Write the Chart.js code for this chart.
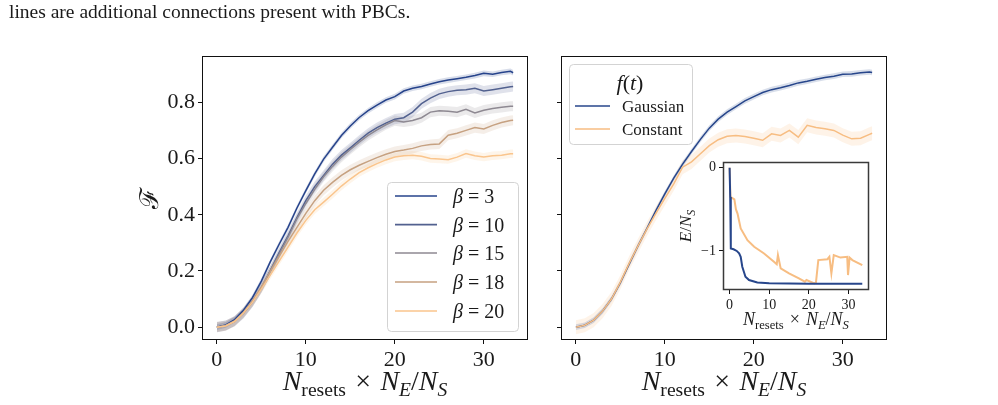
<!DOCTYPE html>
<html><head><meta charset="utf-8">
<script src="https://cdn.jsdelivr.net/npm/chart.js@4"></script>
<style>
body{margin:0;background:#fff;width:998px;height:405px;overflow:hidden;position:relative}
canvas{position:absolute}
</style></head><body>
<canvas id="cap" width="600" height="26" style="left:0px;top:0px"></canvas>
<canvas id="c1" width="410" height="365" style="left:130px;top:40px"></canvas>
<canvas id="c2" width="360" height="365" style="left:545px;top:40px"></canvas>
<canvas id="c3" width="220" height="190" style="left:660px;top:150px"></canvas>
<script>
// ---------------- data ----------------
const caption = 'lines are additional connections present with PBCs.';
const xs = [0,1,2,3,4,5,6,7,8,9,10,11,12,13,14,15,16,17,18,19,20,21,22,23,24,25,26,27,28,29,30,31,32,33,33.3];
const beta3  = [0,0.008,0.027,0.06,0.105,0.164,0.232,0.295,0.355,0.424,0.486,0.545,0.598,0.64,0.682,0.716,0.746,0.77,0.79,0.808,0.82,0.84,0.85,0.856,0.865,0.873,0.879,0.884,0.889,0.895,0.903,0.9,0.906,0.91,0.905];
const beta10 = [0,0.006,0.022,0.05,0.09,0.14,0.2,0.265,0.325,0.39,0.45,0.5,0.54,0.58,0.612,0.638,0.665,0.69,0.71,0.726,0.74,0.745,0.765,0.795,0.815,0.83,0.838,0.843,0.845,0.85,0.84,0.845,0.85,0.855,0.856];
const beta15 = [0,0.006,0.02,0.05,0.09,0.14,0.2,0.26,0.32,0.385,0.44,0.49,0.535,0.572,0.605,0.632,0.658,0.682,0.702,0.72,0.735,0.73,0.735,0.745,0.765,0.77,0.768,0.765,0.775,0.762,0.772,0.778,0.782,0.786,0.786];
const beta18 = [0,0.005,0.022,0.053,0.093,0.143,0.198,0.252,0.305,0.355,0.405,0.45,0.487,0.515,0.54,0.56,0.576,0.59,0.603,0.615,0.625,0.63,0.636,0.645,0.65,0.652,0.683,0.69,0.7,0.71,0.705,0.718,0.728,0.735,0.736];
const beta20 = [0,0.004,0.02,0.05,0.088,0.135,0.185,0.235,0.285,0.335,0.38,0.418,0.445,0.473,0.502,0.527,0.55,0.567,0.582,0.595,0.605,0.61,0.612,0.608,0.6,0.598,0.596,0.605,0.618,0.61,0.605,0.61,0.612,0.617,0.617];
const gaussian = [0,0.007,0.025,0.057,0.1,0.158,0.225,0.29,0.352,0.415,0.474,0.53,0.58,0.625,0.668,0.708,0.74,0.765,0.785,0.805,0.82,0.835,0.845,0.852,0.86,0.869,0.875,0.882,0.888,0.893,0.9,0.901,0.905,0.908,0.906];
const constant = [0,0.007,0.025,0.057,0.1,0.16,0.228,0.29,0.35,0.405,0.458,0.51,0.569,0.588,0.617,0.646,0.667,0.679,0.682,0.678,0.672,0.665,0.688,0.682,0.7,0.676,0.718,0.71,0.706,0.7,0.683,0.67,0.672,0.686,0.69];
const errBeta = [0.010, 0.018, 0.018, 0.018, 0.015];
const errF = [0.010, 0.025];
const betaLabels = ['3','10','15','18','20'];
const fLabels = ['Gaussian','Constant'];
// inset energy curves
const insetGx = [0,0.15,0.3,1.0,1.8,2.4,2.8,3.2,3.6,4.0,4.9,7.0,10,20,33.5];
const insetGy = [0,-0.35,-0.97,-0.98,-1.0,-1.03,-1.07,-1.19,-1.25,-1.31,-1.35,-1.38,-1.39,-1.395,-1.395];
const insetCx = [0,0.2,1.2,1.6,2.0,2.8,4.5,6.2,8.7,11.2,11.9,12.2,12.9,15,17.5,19.0,19.4,21.4,21.8,22.4,24.7,25.2,25.7,26.3,28.0,29.7,29.9,30.3,31,33.5];
const insetCy = [0,-0.35,-0.38,-0.5,-0.55,-0.73,-0.87,-0.95,-1.03,-1.13,-1.16,-1.05,-1.21,-1.27,-1.33,-1.37,-1.35,-1.39,-1.38,-1.11,-1.1,-1.07,-1.27,-1.05,-1.08,-1.07,-1.29,-1.08,-1.11,-1.17];
const xTicks = [0,10,20,30];
const yTicks = [0,0.2,0.4,0.6,0.8];
const insetYTicks = [0,-1];

// ---------------- style ----------------
const FF = '"Liberation Serif","DejaVu Serif",serif';
const TXT = '#1a1a1a';
const betaColors = ['#26438b','#52618f','#8e8992','#c6a181','#fac58d'];
const fColors = ['#27468b','#f7bd82'];

function rgba(hex,a){const n=parseInt(hex.slice(1),16);return `rgba(${n>>16},${(n>>8)&255},${n&255},${a})`;}
function pts(xa,ya,off){return xa.map((x,i)=>({x:x,y:ya[i]+(off||0)}));}

function rich(ctx, parts, x, y, size, rot, align){
  ctx.save(); ctx.translate(x,y); if(rot) ctx.rotate(-Math.PI/2);
  ctx.textBaseline='alphabetic'; ctx.textAlign='left'; ctx.fillStyle=TXT;
  const f=p=>`${p[1]==='i'?'italic ':''}${Math.round(size*(p[2]||1)*10)/10}px ${FF}`;
  let w=0; parts.forEach(p=>{ctx.font=f(p); w+=ctx.measureText(p[0]).width;});
  let cx = align==='left'?0:-w/2;
  parts.forEach(p=>{ctx.font=f(p); ctx.fillText(p[0],cx,(p[3]||0)*size); cx+=ctx.measureText(p[0]).width;});
  ctx.restore();
}
const xLabParts = [['N','i'],['resets','r',0.7,0.22],[' \u200a\u00d7\u200a ','r'],['N','i'],['E','i',0.7,0.22],['/','r'],['N','i'],['S','i',0.7,0.22]];

// caption text
(function(){const ctx=document.getElementById('cap').getContext('2d');
  rich(ctx,[[caption,'r']],9,18,19.5,false,'left');})();

function boxPlugin(color,width){
  return {id:'box',afterDraw(c){const a=c.chartArea,ctx=c.ctx;ctx.save();ctx.strokeStyle=color;ctx.lineWidth=width;
    ctx.strokeRect(Math.round(a.left)+0.5,Math.round(a.top)+0.5,Math.round(a.right-a.left)-1,Math.round(a.bottom-a.top)-1);ctx.restore();}};
}
function legendBox(ctx,x,y,w,h){
  ctx.save();ctx.beginPath();ctx.roundRect(x+0.5,y+0.5,w,h,4);ctx.fillStyle='rgba(255,255,255,0.85)';ctx.fill();
  ctx.strokeStyle='#d3d3d3';ctx.lineWidth=1;ctx.stroke();ctx.restore();
}
function lineSample(ctx,x1,x2,y,col){ctx.save();ctx.strokeStyle=col;ctx.lineWidth=1.6;ctx.beginPath();ctx.moveTo(x1,y);ctx.lineTo(x2,y);ctx.stroke();ctx.restore();}

function scaleX(min,max,size,h){
  return {type:'linear',min:min,max:max,
    afterBuildTicks:s=>{s.ticks=xTicks.map(v=>({value:v}));},
    ticks:{font:{family:FF,size:size},color:TXT,padding:3,maxRotation:0,autoSkip:false,callback:v=>String(v)},
    grid:{display:true,drawOnChartArea:false,drawTicks:true,tickLength:4,color:'#111',lineWidth:1},
    border:{display:false},afterFit:s=>{s.height=h;}};
}
function scaleY(min,max,ticks,size,w,fmt){
  return {type:'linear',min:min,max:max,
    afterBuildTicks:s=>{s.ticks=ticks.map(v=>({value:v}));},
    ticks:{font:{family:FF,size:size},color:TXT,padding:3,autoSkip:false,callback:fmt},
    grid:{display:true,drawOnChartArea:false,drawTicks:true,tickLength:4,color:'#111',lineWidth:1},
    border:{display:false},afterFit:s=>{s.width=w;}};
}
function mainDatasets(series,colors,errs){
  const lines=series.map((s,i)=>({data:pts(xs,s),borderColor:colors[i],borderWidth:1.5,pointRadius:0,fill:false,tension:0}));
  const bands=[];
  series.forEach((s,i)=>{
    bands.push({data:pts(xs,s,errs[i]),borderWidth:0,pointRadius:0,backgroundColor:rgba(colors[i],0.18),fill:'+1'});
    bands.push({data:pts(xs,s,-errs[i]),borderWidth:0,pointRadius:0,backgroundColor:rgba(colors[i],0.18),fill:false});
  });
  return lines.slice().reverse().concat(bands);
}
const common={responsive:false,animation:false,devicePixelRatio:1,
  plugins:{legend:{display:false},tooltip:{enabled:false},filler:{drawTime:'beforeDatasetsDraw'}}};

// ---------------- left chart ----------------
new Chart(document.getElementById('c1'),{type:'line',
  data:{datasets:mainDatasets([beta3,beta10,beta15,beta18,beta20],betaColors,errBeta)},
  options:Object.assign({},common,{layout:{padding:{left:0,right:12,top:16,bottom:0}},
    scales:{x:scaleX(-1.67,34.97,22,65),y:scaleY(-0.0457,0.964,yTicks,22,72,v=>v.toFixed(1))}}),
  plugins:[boxPlugin('#111',1),{id:'deco',afterDraw(c){const ctx=c.ctx;
    rich(ctx,xLabParts,(c.chartArea.left+c.chartArea.right)/2,350,28,false);
    rich(ctx,[['\u2131','r']],28,158,26,true);
    legendBox(ctx,257,142,131,149);
    const ys=[156,184.6,213,242,271];
    betaLabels.forEach((b,i)=>{lineSample(ctx,265,307,ys[i],betaColors[i]);
      rich(ctx,[['\u03b2','i'],[' = '+b,'r']],323,ys[i]+7,20,false,'left');});
  }}]});

// ---------------- right chart ----------------
new Chart(document.getElementById('c2'),{type:'line',
  data:{datasets:mainDatasets([gaussian,constant],fColors,errF)},
  options:Object.assign({},common,{layout:{padding:{left:0,right:18,top:16,bottom:0}},
    scales:{x:scaleX(-1.67,34.97,22,65),y:scaleY(-0.0457,0.964,yTicks,22,16,()=>'')}}),
  plugins:[boxPlugin('#111',1),{id:'deco2',afterDraw(c){const ctx=c.ctx;
    rich(ctx,xLabParts,(c.chartArea.left+c.chartArea.right)/2,350,28,false);
    legendBox(ctx,24,24,123,80);
    rich(ctx,[['f','i'],['(','r'],['t','i'],[')','r']],85,50,22,false);
    const ys=[66,89];
    fLabels.forEach((t,i)=>{lineSample(ctx,30,65,ys[i],fColors[i]);
      rich(ctx,[[t,'r']],77,ys[i]+6,17,false,'left');});
  }}]});

// ---------------- inset ----------------
new Chart(document.getElementById('c3'),{type:'line',
  data:{datasets:[
    {data:pts(insetGx,insetGy),borderColor:fColors[0],borderWidth:2,pointRadius:0,fill:false},
    {data:pts(insetCx,insetCy),borderColor:fColors[1],borderWidth:2,pointRadius:0,fill:false}]},
  options:Object.assign({},common,{layout:{padding:{left:0,right:11,top:12,bottom:0}},
    scales:{x:scaleX(-1.67,35.2,14,50),y:scaleY(-1.47,0.07,insetYTicks,14,63,v=>v===0?'0':'\u22121')}}),
  plugins:[{id:'bg',beforeDraw(c){const a=c.chartArea,ctx=c.ctx;ctx.save();ctx.fillStyle='#fff';ctx.fillRect(a.left,a.top,a.right-a.left,a.bottom-a.top);ctx.restore();}},
    boxPlugin('#3a3a3a',1.5),{id:'deco3',afterDraw(c){const ctx=c.ctx;
    rich(ctx,xLabParts,(c.chartArea.left+c.chartArea.right)/2,175,18,false);
    rich(ctx,[['E','i'],['/','r'],['N','i'],['S','i',0.7,0.22]],31,76,17,true);
  }}]});
</script>
</body></html>
